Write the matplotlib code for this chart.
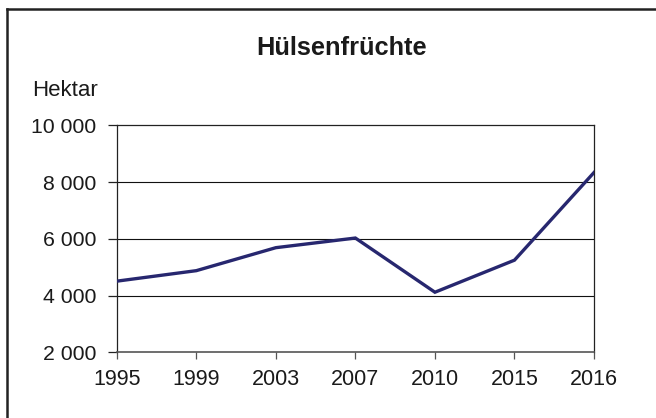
import matplotlib
matplotlib.use("Agg")
import matplotlib.pyplot as plt
from matplotlib.lines import Line2D

years = ["1995", "1999", "2003", "2007", "2010", "2015", "2016"]
hectares = [4510, 4880, 5690, 6030, 4120, 5250, 8340]
y_ticks = [2000, 4000, 6000, 8000, 10000]
y_tick_labels = ["2 000", "4 000", "6 000", "8 000", "10 000"]
title = "Hülsenfrüchte"
unit_label = "Hektar"

plt.rcParams['font.family'] = ['Liberation Sans', 'DejaVu Sans']

fig = plt.figure(figsize=(6.56, 4.18), dpi=100)
ax = fig.add_axes([0.178, 0.157, 0.9055 - 0.178, 0.700 - 0.157])

x = list(range(len(years)))
ax.plot(x, hectares, color='#27276f', linewidth=2.4, solid_joinstyle='miter', zorder=3)

ax.set_xlim(0, len(years) - 1)
ax.set_ylim(2000, 10000)
ax.set_xticks(x)
ax.set_xticklabels(years)
ax.set_yticks(y_ticks)
ax.set_yticklabels(y_tick_labels)

for yv in y_ticks[1:-1]:
    ax.axhline(yv, color='#111111', linewidth=0.8, zorder=1)

for side in ['left', 'top', 'right']:
    ax.spines[side].set_color('#222222')
    ax.spines[side].set_linewidth(0.9)
ax.spines['bottom'].set_color('#555555')
ax.spines['bottom'].set_linewidth(1.2)

ax.tick_params(axis='x', direction='out', length=5, width=0.9, color='#555555',
               pad=7, labelsize=15.5, labelcolor='#1a1a1a')
ax.tick_params(axis='y', direction='out', length=6.5, width=0.9, color='#222222',
               pad=8.5, labelsize=15.3, labelcolor='#1a1a1a')

fig.text(0.521, 1 - 48 / 418, title, ha='center', va='center',
         fontsize=18.3, fontweight='bold', color='#1a1a1a')
fig.text(32 / 656, 1 - 91 / 418, unit_label, ha='left', va='center',
         fontsize=16, color='#1a1a1a')

# outer frame (left and top edges)
fig.add_artist(Line2D([7 / 656, 7 / 656], [0, 1 - 9 / 418], transform=fig.transFigure,
                      color='#222222', linewidth=1.8))
fig.add_artist(Line2D([7 / 656, 1], [1 - 9 / 418, 1 - 9 / 418], transform=fig.transFigure,
                      color='#222222', linewidth=1.8))

fig.savefig('out.png', dpi=100)
